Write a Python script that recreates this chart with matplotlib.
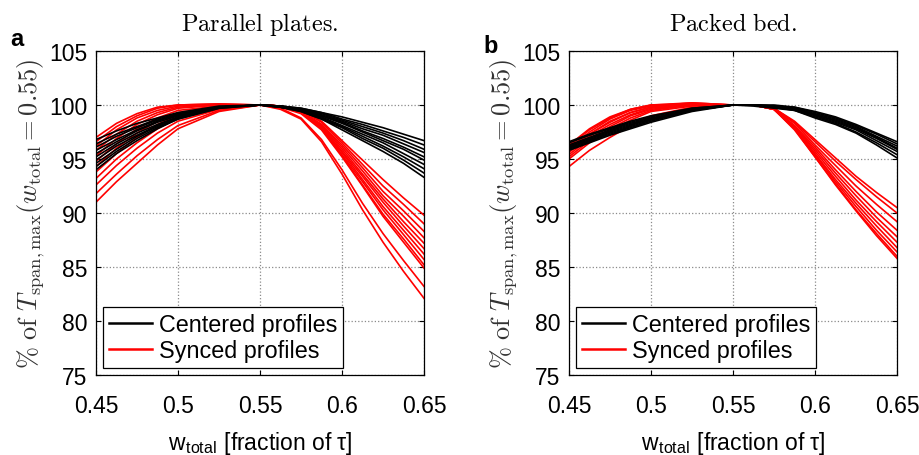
import numpy as np
import matplotlib as mpl
mpl.use("Agg")
import matplotlib.pyplot as plt

W_TOTAL = [0.45, 0.4625, 0.475, 0.4875, 0.5, 0.525, 0.55,
           0.5625, 0.575, 0.5875, 0.6, 0.6125, 0.625, 0.6375, 0.65]

# Parallel plates, centered profiles (black)
PLATES_CENTERED = [
    [96.8, 97.6, 98.3, 98.8, 99.3, 99.9, 100, 99.9, 99.7, 99.3, 98.9, 98.4, 97.9, 97.3, 96.7],
    [96.4, 97.3, 98.0, 98.7, 99.2, 99.8, 100, 99.9, 99.7, 99.3, 98.7, 98.2, 97.6, 97.0, 96.3],
    [96.1, 97.1, 97.9, 98.6, 99.1, 99.8, 100, 99.9, 99.6, 99.2, 98.6, 98.0, 97.4, 96.7, 95.9],
    [95.8, 96.8, 97.7, 98.5, 99.1, 99.8, 100, 99.9, 99.6, 99.1, 98.5, 97.8, 97.2, 96.4, 95.6],
    [95.5, 96.6, 97.6, 98.4, 99.0, 99.8, 100, 99.9, 99.6, 99.0, 98.4, 97.6, 96.9, 96.1, 95.2],
    [95.2, 96.4, 97.4, 98.2, 98.9, 99.8, 100, 99.8, 99.5, 99.0, 98.3, 97.5, 96.7, 95.9, 94.9],
    [94.9, 96.2, 97.2, 98.1, 98.9, 99.8, 100, 99.8, 99.5, 98.9, 98.1, 97.3, 96.5, 95.5, 94.5],
    [94.6, 95.9, 97.1, 98.0, 98.8, 99.8, 100, 99.8, 99.5, 98.8, 98.0, 97.1, 96.2, 95.2, 94.1],
    [94.3, 95.7, 96.9, 97.9, 98.7, 99.7, 100, 99.8, 99.4, 98.7, 97.9, 96.9, 96.0, 94.9, 93.7],
    [94.0, 95.5, 96.7, 97.8, 98.7, 99.7, 100, 99.8, 99.4, 98.7, 97.7, 96.7, 95.7, 94.6, 93.3],
]

# Parallel plates, synced profiles (red)
PLATES_SYNCED = [
    [97.0, 98.3, 99.2, 99.8, 100.0, 100.1, 100, 99.9, 99.5, 98.5, 96.7, 94.9, 93.1, 91.4, 89.8],
    [96.6, 98.0, 99.0, 99.7, 100.0, 100.1, 100, 99.9, 99.5, 98.4, 96.5, 94.5, 92.5, 90.8, 89.0],
    [96.2, 97.7, 98.8, 99.5, 99.9, 100.0, 100, 99.9, 99.4, 98.2, 96.3, 94.2, 92.0, 90.2, 88.3],
    [95.8, 97.3, 98.5, 99.3, 99.8, 100.0, 100, 99.9, 99.4, 98.2, 96.1, 93.9, 91.6, 89.7, 87.7],
    [95.3, 96.9, 98.2, 99.1, 99.7, 100.0, 100, 99.9, 99.4, 98.1, 95.9, 93.6, 91.3, 89.2, 87.2],
    [94.8, 96.4, 97.8, 98.8, 99.5, 99.9, 100, 99.9, 99.3, 98.0, 95.7, 93.4, 91.0, 88.8, 86.7],
    [94.3, 96.0, 97.4, 98.5, 99.3, 99.9, 100, 99.9, 99.3, 97.9, 95.6, 93.1, 90.6, 88.4, 86.2],
    [93.8, 95.5, 97.0, 98.2, 99.1, 99.8, 100, 99.9, 99.3, 97.9, 95.4, 92.9, 90.3, 88.0, 85.7],
    [93.2, 95.0, 96.5, 97.8, 98.8, 99.7, 100, 99.9, 99.3, 97.8, 95.3, 92.6, 89.9, 87.6, 85.2],
    [92.6, 94.4, 96.0, 97.4, 98.5, 99.6, 100, 99.8, 99.2, 97.7, 95.2, 92.5, 89.7, 87.3, 84.9],
    [91.8, 93.6, 95.3, 96.8, 98.1, 99.5, 100, 99.7, 98.8, 96.8, 94.0, 90.9, 88.1, 85.6, 83.2],
    [91.0, 92.9, 94.6, 96.3, 97.8, 99.4, 100, 99.6, 98.7, 96.6, 93.6, 90.3, 87.3, 84.6, 82.1],
]

# Packed bed, centered profiles (black)
BED_CENTERED = [
    [96.6, 97.3, 97.9, 98.5, 99.0, 99.7, 100, 100.0, 100.0, 99.8, 99.4, 98.9, 98.2, 97.4, 96.6],
    [96.5, 97.2, 97.8, 98.4, 98.9, 99.7, 100, 100.0, 99.9, 99.8, 99.3, 98.8, 98.1, 97.3, 96.4],
    [96.3, 97.0, 97.7, 98.3, 98.8, 99.6, 100, 100.0, 99.9, 99.7, 99.2, 98.7, 98.0, 97.1, 96.2],
    [96.2, 96.9, 97.6, 98.2, 98.7, 99.6, 100, 100.0, 99.9, 99.7, 99.1, 98.6, 97.9, 97.0, 96.0],
    [96.1, 96.8, 97.5, 98.1, 98.7, 99.5, 100, 100.0, 99.8, 99.6, 99.1, 98.5, 97.8, 96.9, 95.9],
    [96.0, 96.7, 97.4, 98.0, 98.6, 99.5, 100, 100.0, 99.8, 99.6, 99.0, 98.4, 97.7, 96.7, 95.7],
    [95.9, 96.6, 97.3, 97.9, 98.5, 99.5, 100, 100.0, 99.8, 99.5, 98.9, 98.3, 97.5, 96.5, 95.4],
    [95.8, 96.5, 97.2, 97.8, 98.4, 99.4, 100, 99.9, 99.7, 99.5, 98.8, 98.2, 97.4, 96.3, 95.1],
]

# Packed bed, synced profiles (red)
BED_SYNCED = [
    [96.3, 97.8, 98.9, 99.6, 100.0, 100.2, 100, 100.0, 99.7, 98.5, 96.8, 95.1, 93.4, 91.9, 90.5],
    [96.0, 97.5, 98.7, 99.5, 99.9, 100.2, 100, 100.0, 99.7, 98.4, 96.6, 94.8, 93.1, 91.5, 90.0],
    [95.8, 97.3, 98.5, 99.3, 99.8, 100.1, 100, 100.0, 99.7, 98.3, 96.3, 94.4, 92.5, 90.8, 89.2],
    [96.2, 97.7, 98.8, 99.6, 100.0, 100.1, 100, 100.0, 99.7, 98.1, 96.1, 94.0, 92.0, 90.1, 88.4],
    [95.9, 97.3, 98.4, 99.3, 99.8, 100.1, 100, 100.0, 99.6, 98.0, 95.9, 93.7, 91.6, 89.6, 87.8],
    [95.6, 97.1, 98.2, 99.1, 99.7, 100.0, 100, 100.0, 99.6, 98.0, 95.7, 93.4, 91.2, 89.2, 87.3],
    [95.4, 96.9, 98.0, 99.0, 99.6, 100.0, 100, 100.0, 99.6, 97.9, 95.5, 93.1, 90.9, 88.8, 86.8],
    [95.2, 96.7, 97.8, 98.8, 99.5, 100.0, 100, 100.0, 99.6, 97.8, 95.4, 92.9, 90.6, 88.4, 86.4],
    [95.0, 96.5, 97.6, 98.6, 99.4, 99.9, 100, 100.0, 99.6, 97.8, 95.2, 92.7, 90.3, 88.1, 86.0],
    [94.3, 95.8, 97.0, 98.1, 99.0, 99.8, 100, 100.0, 99.6, 97.7, 95.2, 92.6, 90.2, 87.9, 85.8],
]

PANELS = [
    ("a", r"$\mathrm{Parallel\ plates.}$", PLATES_CENTERED, PLATES_SYNCED),
    ("b", r"$\mathrm{Packed\ bed.}$", BED_CENTERED, BED_SYNCED),
]

X_TICKS = [0.45, 0.5, 0.55, 0.6, 0.65]
X_TICK_LABELS = ["0.45", "0.5", "0.55", "0.6", "0.65"]
Y_TICKS = [75, 80, 85, 90, 95, 100, 105]


def main():
    mpl.rcParams.update({
        "font.family": ["Liberation Sans", "DejaVu Sans"],
        "mathtext.fontset": "cm",
        "font.size": 16.5,
        "axes.linewidth": 0.9,
        "xtick.direction": "in",
        "ytick.direction": "in",
        "xtick.top": True,
        "ytick.right": True,
        "xtick.major.size": 3.5,
        "ytick.major.size": 3.5,
    })

    fig = plt.figure(figsize=(9.2, 4.56), dpi=100)
    lefts = [96 / 920, 569 / 920]

    for left, (letter, title, centered, synced) in zip(lefts, PANELS):
        ax = fig.add_axes([left, 80 / 456, 328 / 920, 324 / 456])
        x = np.array(W_TOTAL)
        for row in synced:
            ax.plot(x, row, color="#ff0000", lw=1.2)
        for row in centered:
            ax.plot(x, row, color="black", lw=1.2)

        ax.set_xlim(0.45, 0.65)
        ax.set_ylim(75, 105)
        ax.set_xticks(X_TICKS)
        ax.set_xticklabels(X_TICK_LABELS)
        ax.set_yticks(Y_TICKS)
        ax.tick_params(axis="x", pad=14)
        ax.tick_params(axis="y", pad=6)
        ax.grid(True, ls=":", color="#8a8a8a", lw=0.9)
        ax.set_axisbelow(True)

        ax.set_title(title, fontsize=17.5, pad=15)
        ax.set_xlabel(r"w$_{\mathregular{total}}$ [fraction of τ]", labelpad=8)
        ax.set_ylabel(r"$\%\ \mathrm{of}\ T_{\mathrm{span,max}}(w_{\mathrm{total}} = 0.55)$",
                      fontsize=19, color="#333333", labelpad=2)

        h_c = plt.Line2D([], [], color="black", lw=1.8)
        h_s = plt.Line2D([], [], color="#ff0000", lw=1.8)
        leg = ax.legend(
            [h_c, h_s],
            ["Centered profiles", "Synced profiles"],
            loc="lower left",
            bbox_to_anchor=(7 / 328, 7 / 324),
            borderaxespad=0,
            fancybox=False,
            framealpha=1,
            edgecolor="black",
            handlelength=1.85,
            handletextpad=0.3,
            borderpad=0.25,
            labelspacing=0.15,
            fontsize=16.8,
        )
        leg.get_frame().set_linewidth(0.9)

        fig.text(left - 86 / 920, 1 - 46 / 456 if letter == "a" else 1 - 53 / 456,
                 letter, fontsize=17, fontweight="bold", ha="left", va="baseline")

    fig.savefig("out.png", dpi=100)


if __name__ == "__main__":
    main()
